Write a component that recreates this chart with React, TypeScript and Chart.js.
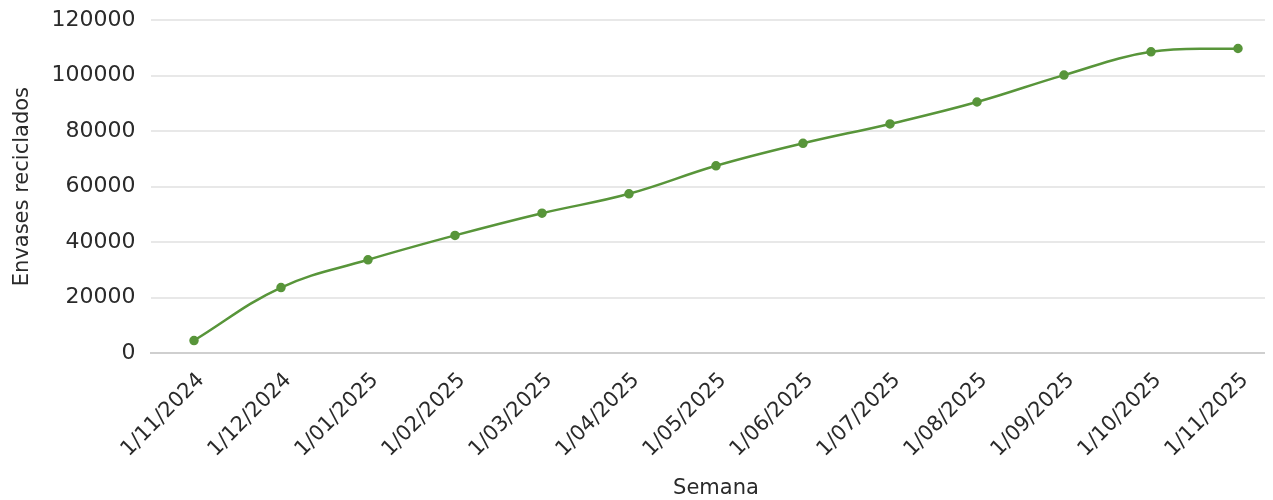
import React, { useEffect, useRef } from "react";
import { Chart, registerables } from "chart.js";

Chart.register(...registerables);

const months: string[] = [
  "1/11/2024",
  "1/12/2024",
  "1/01/2025",
  "1/02/2025",
  "1/03/2025",
  "1/04/2025",
  "1/05/2025",
  "1/06/2025",
  "1/07/2025",
  "1/08/2025",
  "1/09/2025",
  "1/10/2025",
  "1/11/2025",
];

const recycled: number[] = [
  4500, 23600, 33600, 42400, 50400, 57400, 67500, 75600, 82600, 90500, 100200,
  108600, 109800,
];

const yTicksMax = 120000;
const yTicksStep = 20000;

const FONT = "'DejaVu Sans', sans-serif";
const GREEN = "#58953a";
const TEXT = "#2a2a2a";

export default function App() {
  const canvasRef = useRef<HTMLCanvasElement | null>(null);

  useEffect(() => {
    const canvas = canvasRef.current;
    if (!canvas) return;
    const chart = new Chart(canvas, {
      type: "line",
      data: {
        labels: months,
        datasets: [
          {
            label: "Envases reciclados",
            data: recycled,
            borderColor: GREEN,
            backgroundColor: GREEN,
            borderWidth: 2.5,
            pointRadius: 3.5,
            pointBackgroundColor: GREEN,
            pointBorderColor: GREEN,
            tension: 0.4,
            fill: false,
          },
        ],
      },
      options: {
        animation: false,
        responsive: true,
        maintainAspectRatio: false,
        layout: { padding: 0 },
        plugins: {
          legend: { display: false },
          tooltip: { enabled: false },
        },
        scales: {
          x: {
            offset: true,
            grid: { display: false, drawTicks: false },
            border: { display: true, color: "#cfcfcf", width: 2 },
            ticks: {
              color: TEXT,
              font: { family: FONT, size: 21 },
              minRotation: 45,
              maxRotation: 45,
              padding: 15,
              labelOffset: 7,
              autoSkip: false,
            },
            title: {
              display: true,
              text: "Semana",
              color: TEXT,
              font: { family: FONT, size: 21 },
              padding: { top: 0, bottom: 3 },
            },
            afterFit: (s: any) => {
              s.height = 151;
            },
          },
          y: {
            min: 0,
            max: yTicksMax,
            grid: { color: "#e8e8e8", lineWidth: 2, drawTicks: false },
            border: { display: false },
            ticks: {
              stepSize: yTicksStep,
              color: TEXT,
              font: { family: FONT, size: 22 },
              padding: 15,
              callback: (v: any) => String(v),
            },
            title: {
              display: true,
              text: "Envases reciclados",
              color: TEXT,
              font: { family: FONT, size: 21 },
              padding: { top: 2, bottom: 0 },
            },
            afterFit: (s: any) => {
              s.width = 142.5;
            },
          },
        },
      },
    });
    return () => chart.destroy();
  }, []);

  return (
    <div style={{ width: 1265, height: 492, overflow: "hidden" }}>
      <div style={{ position: "relative", top: -16, width: 1280, height: 512 }}>
        <canvas ref={canvasRef} />
      </div>
    </div>
  );
}
